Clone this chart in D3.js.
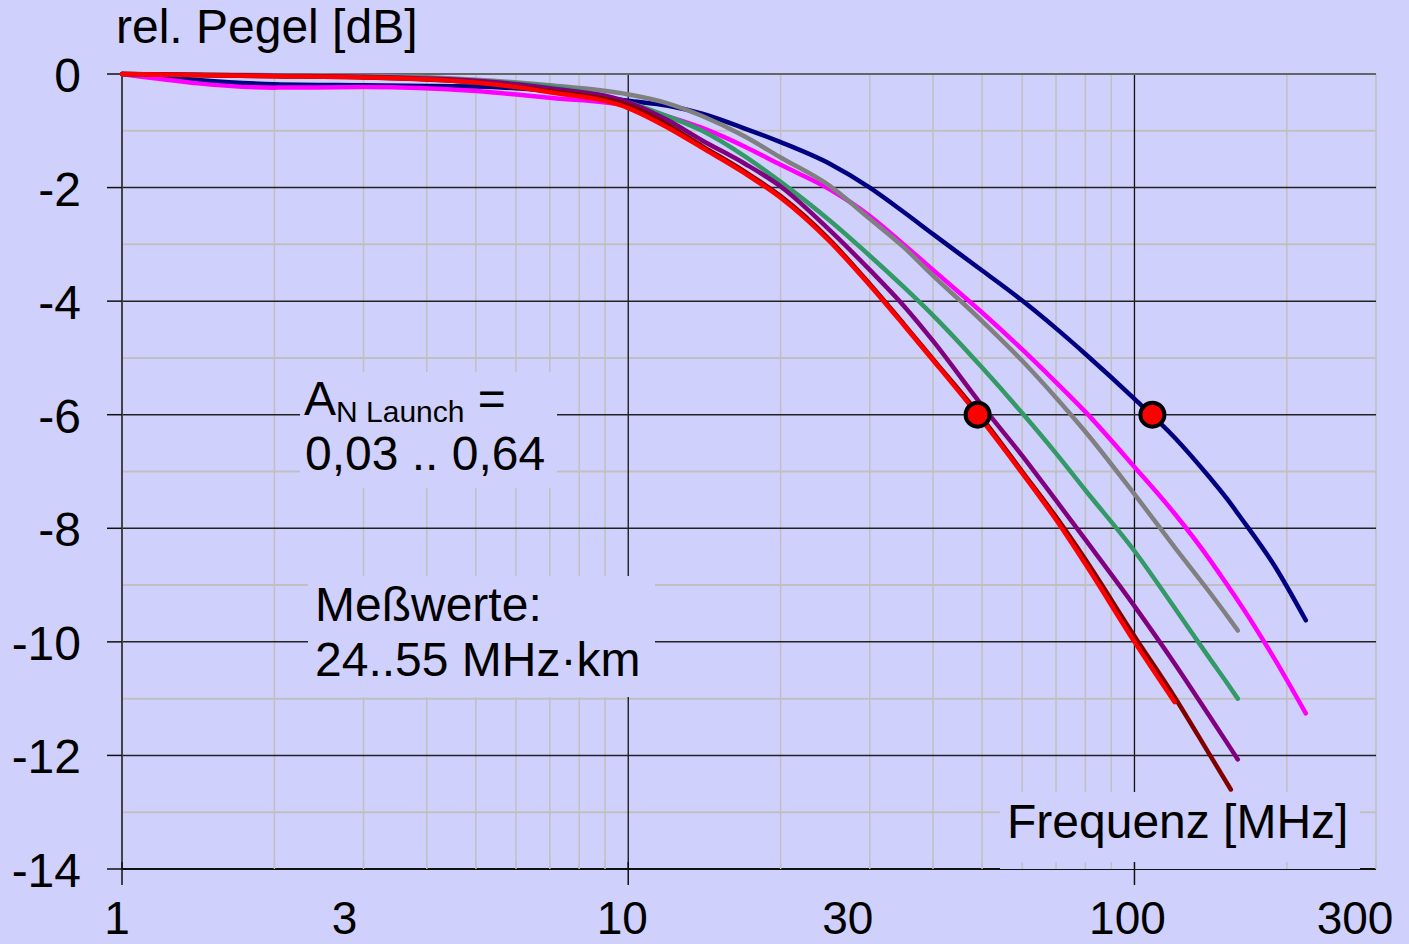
<!DOCTYPE html>
<html>
<head>
<meta charset="utf-8">
<script src="https://cdn.jsdelivr.net/npm/d3@7"></script>
<style>
  body { margin: 0; background: #D0D0FC; }
  text { font-family: "Liberation Sans", Arial, sans-serif; fill: #000; }
</style>
</head>
<body>
<div id="chart"></div>
<script>
var width = 1409, height = 944;

// frequency grid of the measured curves (MHz)
var freqs = [1, 2, 3, 5, 7, 10, 12, 14, 17, 20, 25, 30, 35, 40, 50, 60, 70, 80, 100, 120, 140, 155, 160, 190, 218];

// rel. level in dB per curve (null = no data)
var navyVals    = [0, -0.18, -0.2, -0.22, -0.3, -0.47, -0.56, -0.7, -0.96, -1.2, -1.58, -2.0, -2.43, -2.82, -3.46, -3.99, -4.48, -4.93, -5.72, -6.4, -7.08, -7.57, -7.74, -8.69, -9.62];
var magentaVals = [0, -0.24, -0.23, -0.3, -0.42, -0.56, -0.75, -0.95, -1.28, -1.6, -2.03, -2.5, -3.0, -3.45, -4.2, -4.85, -5.43, -5.95, -6.92, -7.74, -8.52, -9.09, -9.27, -10.33, -11.26];
var grayVals    = [0, -0.02, -0.03, -0.1, -0.2, -0.36, -0.52, -0.74, -1.1, -1.47, -1.97, -2.55, -3.05, -3.55, -4.35, -5.05, -5.7, -6.3, -7.4, -8.33, -9.1, -9.63, -9.8, null, null];
var greenVals   = [0, -0.03, -0.05, -0.12, -0.22, -0.5, -0.75, -1.0, -1.45, -1.9, -2.58, -3.2, -3.75, -4.25, -5.17, -5.97, -6.68, -7.33, -8.4, -9.4, -10.26, -10.82, -11.0, null, null];
var purpleVals  = [0, -0.03, -0.05, -0.12, -0.25, -0.5, -0.82, -1.17, -1.58, -1.98, -2.75, -3.45, -4.08, -4.7, -5.84, -6.72, -7.51, -8.2, -9.37, -10.38, -11.28, -11.88, -12.07, null, null];
var darkredVals = [0, -0.04, -0.06, -0.15, -0.3, -0.55, -0.9, -1.27, -1.72, -2.15, -2.92, -3.7, -4.4, -5.02, -6.06, -7.0, -7.8, -8.55, -9.9, -10.97, -11.95, -12.6, null, null, null];
var redVals     = [0, -0.04, -0.06, -0.15, -0.32, -0.6, -0.95, -1.3, -1.75, -2.18, -2.95, -3.72, -4.42, -5.04, -6.1, -7.03, -7.85, -8.63, -10.0, -11.06, null, null, null, null, null];

// -6 dB points
var dotFreqs  = [49, 108.5];
var dotLevels = [-6, -6];

// axis labels
var xTickVals   = [1, 3, 10, 30, 100, 300];
var xLabelShift = [-5, -19, -6, -22, -7, -21];
var yTickVals   = [0, -2, -4, -6, -8, -10, -12, -14];
var minorFreqs  = [2, 3, 4, 5, 6, 7, 8, 9, 20, 30, 40, 50, 60, 70, 80, 90, 200, 300];
var majorFreqs  = [10, 100];
var minorLevels = [-1, -3, -5, -7, -9, -11, -13];
var majorLevels = [-2, -4, -6, -8, -10, -12];

var curves = [
  { vals: navyVals,    color: "#000080" },
  { vals: magentaVals, color: "#FF00FF" },
  { vals: grayVals,    color: "#808080" },
  { vals: greenVals,   color: "#339966" },
  { vals: purpleVals,  color: "#800080" },
  { vals: darkredVals, color: "#800000" },
  { vals: redVals,     color: "#FF0000" }
];

var x = d3.scaleLog().domain([1, 300]).range([122, 1376]);
var y = d3.scaleLinear().domain([0, -14]).range([74, 869]);

var svg = d3.select("#chart").append("svg")
  .attr("width", width)
  .attr("height", height);

svg.append("rect")
  .attr("width", width).attr("height", height)
  .attr("fill", "#D0D0FC");

// minor grid
svg.selectAll(".vminor").data(minorFreqs).enter().append("line")
  .attr("x1", d => x(d)).attr("x2", d => x(d))
  .attr("y1", y(0)).attr("y2", y(-14))
  .attr("stroke", "#C0C0C0").attr("stroke-width", 1.5);

svg.selectAll(".hminor").data(minorLevels).enter().append("line")
  .attr("x1", x(1)).attr("x2", x(300))
  .attr("y1", d => y(d)).attr("y2", d => y(d))
  .attr("stroke", "#C0C0C0").attr("stroke-width", 2);

// major grid
svg.selectAll(".vmajor").data(majorFreqs).enter().append("line")
  .attr("x1", d => x(d)).attr("x2", d => x(d))
  .attr("y1", y(0)).attr("y2", y(-14))
  .attr("stroke", "#111").attr("stroke-width", 1.3);

svg.selectAll(".hmajor").data(majorLevels).enter().append("line")
  .attr("x1", x(1)).attr("x2", x(300))
  .attr("y1", d => y(d)).attr("y2", d => y(d))
  .attr("stroke", "#222").attr("stroke-width", 1.5);

// top line and axes
svg.append("line")
  .attr("x1", x(1)).attr("x2", x(300)).attr("y1", y(0)).attr("y2", y(0))
  .attr("stroke", "#666").attr("stroke-width", 2);
svg.append("line")
  .attr("x1", x(1)).attr("x2", x(1)).attr("y1", y(0)).attr("y2", y(-14))
  .attr("stroke", "#444").attr("stroke-width", 2);
svg.append("line")
  .attr("x1", x(1)).attr("x2", x(300)).attr("y1", y(-14)).attr("y2", y(-14))
  .attr("stroke", "#111").attr("stroke-width", 2);

// label boxes covering the grid
var boxes = [[300, 372, 257, 116], [308, 576, 347, 121], [1000, 792, 360, 77]];
svg.selectAll(".box").data(boxes).enter().append("rect")
  .attr("x", d => d[0]).attr("y", d => d[1])
  .attr("width", d => d[2]).attr("height", d => d[3])
  .attr("fill", "#D0D0FC");

// ticks
svg.selectAll(".yt").data(yTickVals).enter().append("line")
  .attr("x1", x(1) - 15).attr("x2", x(1))
  .attr("y1", d => y(d)).attr("y2", d => y(d))
  .attr("stroke", "#111").attr("stroke-width", 1.5);

svg.selectAll(".xtm").data(minorFreqs).enter().append("line")
  .attr("x1", d => x(d)).attr("x2", d => x(d))
  .attr("y1", y(-14) - 7).attr("y2", y(-14))
  .attr("stroke", "#C0C0C0").attr("stroke-width", 1.5);

svg.selectAll(".xt").data([1, 10, 100]).enter().append("line")
  .attr("x1", d => x(d)).attr("x2", d => x(d))
  .attr("y1", y(-14) - 7).attr("y2", y(-14) + 16)
  .attr("stroke", "#111").attr("stroke-width", 1.5);

// curves
var line = d3.line()
  .defined(d => d[1] !== null)
  .x(d => x(d[0]))
  .y(d => y(d[1]))
  .curve(d3.curveMonotoneX);

curves.forEach(function(c) {
  var pts = freqs.map((f, i) => [f, c.vals[i]]);
  svg.append("path")
    .datum(pts)
    .attr("d", line)
    .attr("fill", "none")
    .attr("stroke", c.color)
    .attr("stroke-width", 4.5)
    .attr("stroke-linejoin", "round")
    .attr("stroke-linecap", "round");
});

// -6 dB markers
svg.selectAll(".dot").data(dotFreqs).enter().append("circle")
  .attr("cx", d => x(d))
  .attr("cy", (d, i) => y(dotLevels[i]))
  .attr("r", 12)
  .attr("fill", "#FF0000")
  .attr("stroke", "#000")
  .attr("stroke-width", 4);

// tick labels
svg.selectAll(".yl").data(yTickVals).enter().append("text")
  .attr("x", 81)
  .attr("y", d => y(d) + 18)
  .attr("text-anchor", "end")
  .attr("font-size", 48)
  .text(d => d);

svg.selectAll(".xl").data(xTickVals).enter().append("text")
  .attr("x", (d, i) => x(d) + xLabelShift[i])
  .attr("y", 934)
  .attr("text-anchor", "middle")
  .attr("font-size", 46)
  .text(d => d);

// titles and notes
svg.append("text").attr("x", 116).attr("y", 43).attr("font-size", 48).text("rel. Pegel [dB]");
svg.append("text").attr("x", 1007).attr("y", 838).attr("font-size", 48).text("Frequenz [MHz]");

var an = svg.append("text").attr("x", 304).attr("y", 415).attr("font-size", 48);
an.append("tspan").text("A");
an.append("tspan").attr("font-size", 30).attr("dy", 7).text("N Launch");
an.append("tspan").attr("dy", -7).text(" =");
svg.append("text").attr("x", 305).attr("y", 470).attr("font-size", 48).text("0,03 .. 0,64");

svg.append("text").attr("x", 315).attr("y", 621).attr("font-size", 48).text("Meßwerte:");
svg.append("text").attr("x", 315).attr("y", 676).attr("font-size", 48).text("24..55 MHz·km");
</script>
</body>
</html>
